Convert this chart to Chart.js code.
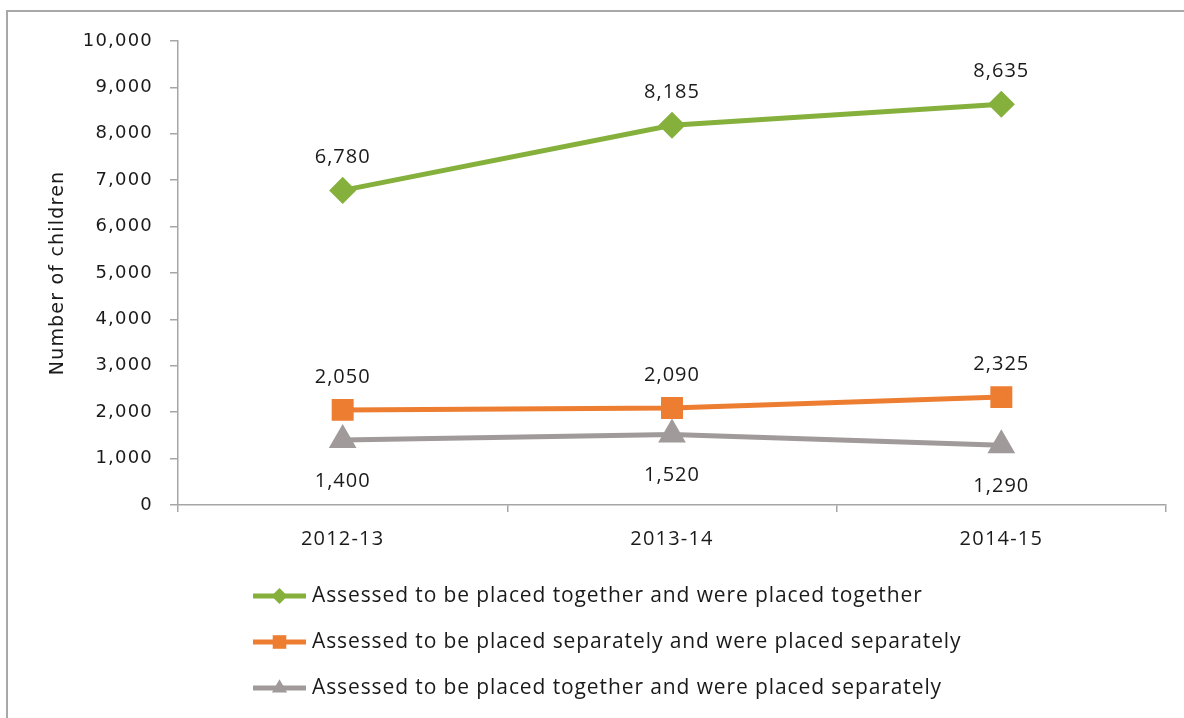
<!DOCTYPE html>
<html>
<head>
<meta charset="utf-8">
<script src="https://cdn.jsdelivr.net/npm/chart.js@4/dist/chart.umd.min.js"></script>
<style>
  html, body { margin: 0; padding: 0; background: #fff; }
  #wrap { position: relative; width: 1184px; height: 718px; overflow: hidden; }
  #frame { position: absolute; left: 6px; top: 10px; width: 1300px; height: 800px;
           border-top: 2px solid #a8a8a8; border-left: 2px solid #a8a8a8; }
  canvas { position: absolute; left: 0; top: 0; }
</style>
</head>
<body>
<div id="wrap">
  <div id="frame"></div>
  <canvas id="chart" width="1184" height="718"></canvas>
</div>
<script>
const years = ['2012-13', '2013-14', '2014-15'];
const togetherTogether = [6780, 8185, 8635];
const separateSeparate = [2050, 2090, 2325];
const togetherSeparate = [1400, 1520, 1290];
const seriesNames = [
  'Assessed to be placed together and were placed together',
  'Assessed to be placed separately and were placed separately',
  'Assessed to be placed together and were placed separately'
];

const fmt = v => v.toLocaleString('en-US');

// the source picture is set rather wide, so open up the letters a bit
const spacing = {
  id: 'spacing',
  beforeUpdate(chart) { chart.ctx.letterSpacing = '1.2px'; },
  beforeDraw(chart) { chart.ctx.letterSpacing = '1.2px'; }
};

// value labels above / below each point
const valueLabels = {
  id: 'valueLabels',
  afterDatasetsDraw(chart) {
    const ctx = chart.ctx;
    ctx.save();
    ctx.letterSpacing = '1px';
    ctx.font = '20px "Open Sans"';
    ctx.fillStyle = '#1a1a1a';
    ctx.textAlign = 'center';
    ctx.textBaseline = 'middle';
    chart.data.datasets.forEach((ds, i) => {
      chart.getDatasetMeta(i).data.forEach((pt, j) => {
        ctx.fillText(fmt(ds.data[j]), pt.x, pt.y + ds.labelShift);
      });
    });
    ctx.restore();
  }
};

// excel-like legend: line with marker, stacked rows
const lineLegend = {
  id: 'lineLegend',
  afterDraw(chart) {
    const ctx = chart.ctx;
    ctx.save();
    chart.data.datasets.forEach((ds, i) => {
      const y = 596 + i * 46;
      ctx.strokeStyle = ds.borderColor;
      ctx.lineWidth = 5;
      ctx.beginPath();
      ctx.moveTo(253, y);
      ctx.lineTo(306, y);
      ctx.stroke();
      ctx.fillStyle = ds.borderColor;
      Chart.helpers.drawPoint(ctx, {
        pointStyle: ds.pointStyle, radius: ds.pointRadius * 0.8, borderWidth: 0, rotation: 0
      }, 279.5, y);
      ctx.fillStyle = '#1a1a1a';
      ctx.letterSpacing = '0.9px';
      ctx.font = '21px "Open Sans"';
      ctx.textBaseline = 'middle';
      ctx.textAlign = 'left';
      ctx.fillText(ds.label, 312, y);
    });
    ctx.restore();
  }
};

new Chart(document.getElementById('chart'), {
  type: 'line',
  data: {
    labels: years,
    datasets: [
      {
        label: seriesNames[0], data: togetherTogether,
        borderColor: '#86b03c', backgroundColor: '#86b03c',
        borderWidth: 5, pointStyle: 'rectRot', pointRadius: 10, labelShift: -33
      },
      {
        label: seriesNames[1], data: separateSeparate,
        borderColor: '#ed7d31', backgroundColor: '#ed7d31',
        borderWidth: 5, pointStyle: 'rect', pointRadius: 12, labelShift: -33
      },
      {
        label: seriesNames[2], data: togetherSeparate,
        borderColor: '#a09a9a', backgroundColor: '#a09a9a',
        borderWidth: 5, pointStyle: 'triangle', pointRadius: 11, labelShift: 41
      }
    ]
  },
  options: {
    responsive: false,
    animation: false,
    devicePixelRatio: 1,
    layout: { padding: { top: 41, right: 18, left: 0, bottom: 0 } },
    elements: { line: { tension: 0 }, point: { borderWidth: 0, hoverRadius: 10 } },
    plugins: { legend: { display: false }, tooltip: { enabled: false } },
    scales: {
      x: {
        offset: true,
        grid: { offset: true, drawOnChartArea: false, tickLength: 7, color: '#a6a6a6', lineWidth: 1.5 },
        border: { color: '#a6a6a6', width: 1.5 },
        ticks: { color: '#1a1a1a', font: { family: '"Open Sans"', size: 20 }, padding: 15 },
        afterFit(s) { s.height = 213; }
      },
      y: {
        min: 0, max: 10000,
        grid: { drawOnChartArea: false, tickLength: 8, color: '#a6a6a6', lineWidth: 1.5 },
        border: { color: '#a6a6a6', width: 1.5 },
        ticks: {
          stepSize: 1000, color: '#1a1a1a', padding: 17,
          font: { family: '"DejaVu Sans"', size: 18 },
          callback: v => fmt(v)
        },
        title: {
          display: true, text: 'Number of children', color: '#1a1a1a',
          font: { family: '"DejaVu Sans"', size: 19 }, padding: { top: 47, bottom: 0 }
        },
        afterFit(s) { s.width = 178; }
      }
    }
  },
  plugins: [spacing, valueLabels, lineLegend]
});
</script>
</body>
</html>
